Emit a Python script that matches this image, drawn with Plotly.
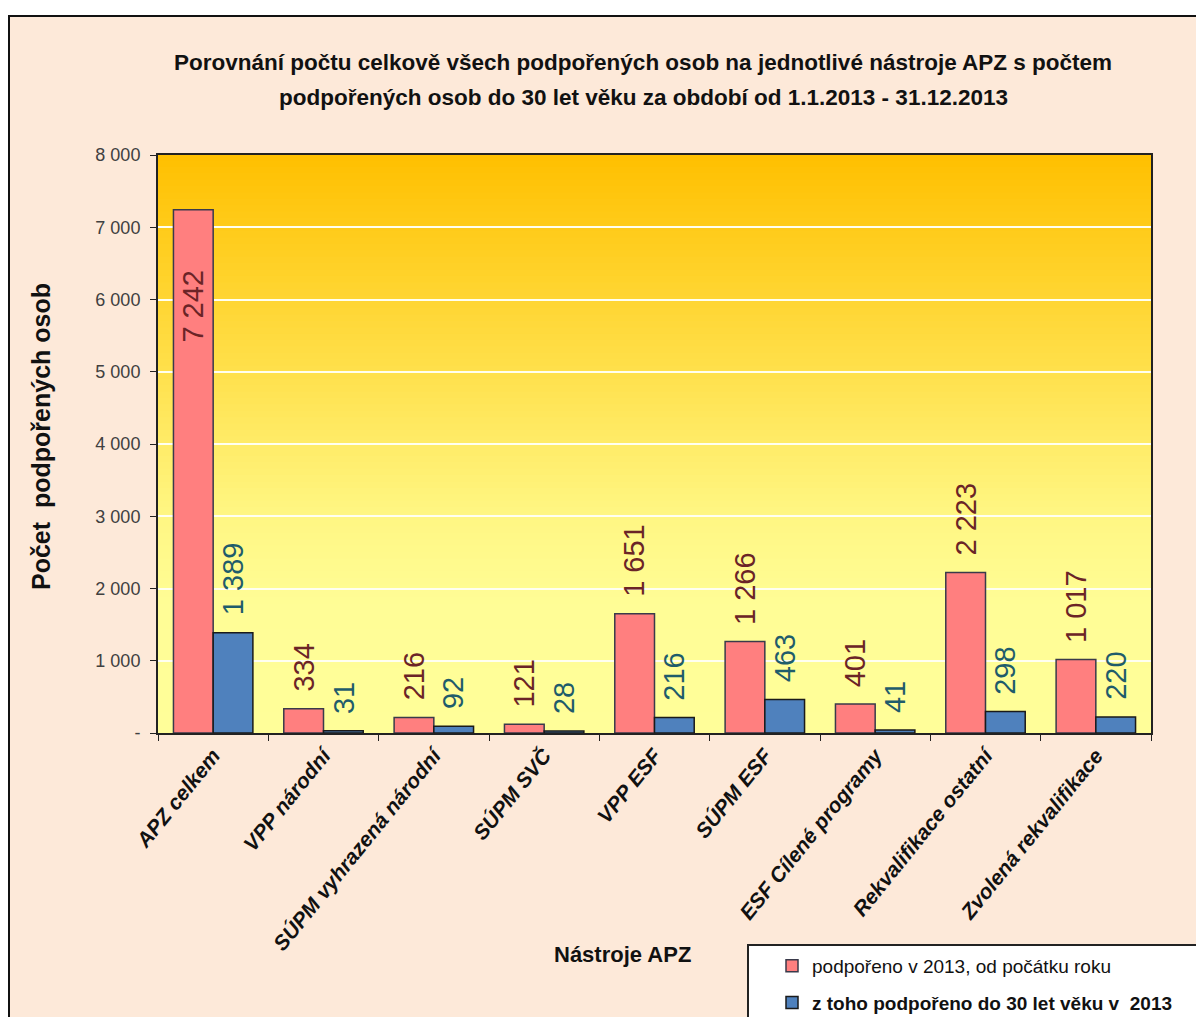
import plotly.graph_objects as go

categories = ["APZ celkem", "VPP národní", "SÚPM vyhrazená národní", "SÚPM SVČ",
              "VPP ESF", "SÚPM ESF", "ESF Cílené programy", "Rekvalifikace ostatní",
              "Zvolená rekvalifikace"]
total_2013 = [7242, 334, 216, 121, 1651, 1266, 401, 2223, 1017]
under30_2013 = [1389, 31, 92, 28, 216, 463, 41, 298, 220]
series_names = ["podpořeno v 2013, od počátku roku",
                "<b>z toho podpořeno do 30 let věku v  2013</b>"]
y_tickvals = [0, 1000, 2000, 3000, 4000, 5000, 6000, 7000, 8000]
y_ticktext = ["-", "1 000", "2 000", "3 000", "4 000", "5 000", "6 000", "7 000", "8 000"]

title_lines = ["Porovnání počtu celkově všech podpořených osob na jednotlivé nástroje APZ s počtem",
               "podpořených osob do 30 let věku za období od 1.1.2013 - 31.12.2013"]
x_title = "Nástroje APZ"
y_title = "Počet\u00a0\u00a0podpořených osob"

W, H = 1204, 1017
OFF = 8  # page body margin
# plot area in screen pixels
SL, SR, ST, SB = 158, 1151, 155, 733
L, R, T, B = SL - OFF, SR - OFF, ST - OFF, SB - OFF
pw, ph = R - L, B - T

NARROW = "Liberation Sans Narrow, Arial Narrow, Liberation Sans, Arial"
ARIAL = "Liberation Sans, Arial, sans-serif"

def fmt(v):
    return f"{v:,}".replace(",", " ")

def px(x):  # screen x -> paper
    return (x - SL) / pw

def py(y):  # screen y -> paper
    return (SB - y) / ph

fig = go.Figure()
fig.add_trace(go.Bar(x=categories, y=total_2013, name=series_names[0],
                     marker=dict(color="#FF7F7F", line=dict(color="#3A3A4A", width=1.5)),
                     legendgroup="a"))
fig.add_trace(go.Bar(x=categories, y=under30_2013, name=series_names[1],
                     marker=dict(color="#4F81BD", line=dict(color="#1A1A1A", width=1.5)),
                     legendgroup="b"))

# value labels
bargap = 0.28
half = (1 - bargap) / 4
ymax = 8000
for i, (a, b) in enumerate(zip(total_2013, under30_2013)):
    for v, off, col in ((a, -half, "#6B2427"), (b, half, "#1F5C6B")):
        inside = v > ymax * 0.8
        fig.add_annotation(x=i + off, y=v, xref="x", yref="y", text=fmt(v),
                           textangle=-90, showarrow=False,
                           yanchor="top" if inside else "bottom",
                           yshift=-58 if inside else 15,
                           font=dict(family=ARIAL, size=29, color=col))

# titles as annotations
fig.add_annotation(x=px(643), y=py(62), xref="paper", yref="paper", text=title_lines[0],
                   showarrow=False, xanchor="center", yanchor="middle",
                   font=dict(family=NARROW, size=22.5, color="#111111", weight="bold"))
fig.add_annotation(x=px(643), y=py(97), xref="paper", yref="paper", text=title_lines[1],
                   showarrow=False, xanchor="center", yanchor="middle",
                   font=dict(family=NARROW, size=22.5, color="#111111", weight="bold"))
fig.add_annotation(x=px(622), y=py(955), xref="paper", yref="paper", text=x_title,
                   showarrow=False, xanchor="center", yanchor="middle",
                   font=dict(family=NARROW, size=22, color="#111111", weight="bold"))
fig.add_annotation(x=px(41), y=py(437), xref="paper", yref="paper", text=y_title,
                   showarrow=False, xanchor="center", yanchor="middle", textangle=-90,
                   font=dict(family=ARIAL, size=25, color="#111111", weight="bold"))

# outer frame
shapes = [dict(type="rect", xref="paper", yref="paper", x0=px(9), x1=px(1240),
               y0=py(1050), y1=py(16), fillcolor="#FDE9D9",
               line=dict(color="#111111", width=2), layer="below")]

# gradient background of plot area
stops = [(0.0, (255, 192, 0)), (0.35, (255, 222, 70)), (0.62, (255, 246, 130)),
         (0.78, (255, 253, 150)), (1.0, (255, 254, 153))]

def color_at(t):
    for (t0, c0), (t1, c1) in zip(stops[:-1], stops[1:]):
        if t0 <= t <= t1:
            f = (t - t0) / (t1 - t0) if t1 > t0 else 0
            return "rgb(%d,%d,%d)" % tuple(round(c0[k] + (c1[k] - c0[k]) * f) for k in range(3))
    return "rgb(255,254,153)"

N = 90
for k in range(N):
    t = (k + 0.5) / N
    shapes.append(dict(type="rect", xref="x domain", yref="y domain", x0=0, x1=1,
                       y0=1 - (k + 1) / N, y1=1 - k / N + 0.002,
                       fillcolor=color_at(t), line=dict(width=0), layer="below"))

# legend box (extends past the right edge as in the reference)
shapes.append(dict(type="rect", xref="paper", yref="paper", x0=px(748), x1=px(1240),
                   y0=py(1050), y1=py(945), fillcolor="white",
                   line=dict(color="#222222", width=2), layer="above"))

fig.update_layout(
    width=W, height=H,
    margin=dict(l=L, r=W - R, t=T, b=H - B, autoexpand=False),
    paper_bgcolor="white", plot_bgcolor="rgba(0,0,0,0)",
    barmode="group", bargap=bargap, bargroupgap=0,
    shapes=shapes,
    showlegend=True,
    legend=dict(x=px(750), y=py(947), xanchor="left", yanchor="top",
                bgcolor="rgba(0,0,0,0)", borderwidth=0,
                font=dict(family=NARROW, size=19, color="#111111"),
                indentation=22, tracegroupgap=9, traceorder="grouped"),
    xaxis=dict(type="category", tickangle=-51, tickson="boundaries", ticks="outside",
               ticklen=6, tickcolor="#222", showline=True, linecolor="#222", linewidth=2,
               mirror=True, showgrid=False,
               tickfont=dict(family=ARIAL, size=21, color="#111111", weight="bold", style="italic")),
    yaxis=dict(range=[0, 8000], tickvals=y_tickvals, ticktext=y_ticktext,
               ticks="outside", ticklen=6, tickcolor="#222", showline=True, linecolor="#222",
               linewidth=2, mirror=True, showgrid=True, gridcolor="#FFFFF0", gridwidth=2,
               zeroline=False, ticklabelstandoff=6,
               tickfont=dict(family=ARIAL, size=18, color="#404040")),
)
fig.write_html("out.html")
